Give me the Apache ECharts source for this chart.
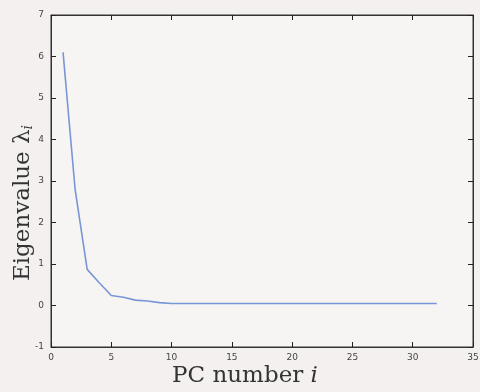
<!DOCTYPE html>
<html>
<head>
<meta charset="utf-8">
<script src="https://cdn.jsdelivr.net/npm/echarts@6/dist/echarts.min.js"></script>
<style>
html,body{margin:0;padding:0;background:#f4f0f0;}
#c{width:480px;height:392px;}
</style>
</head>
<body>
<div id="c"></div>
<script>
var pcIndex = [1,2,3,4,5,6,7,8,9,10,11,12,13,14,15,16,17,18,19,20,21,22,23,24,25,26,27,28,29,30,31,32];
var eigenvalues = [6.1,2.8,0.87,0.55,0.24,0.2,0.13,0.11,0.07,0.05,0.05,0.05,0.05,0.05,0.05,0.05,0.05,0.05,0.05,0.05,0.05,0.05,0.05,0.05,0.05,0.05,0.05,0.05,0.05,0.05,0.05,0.05];
var xTicks = [0,5,10,15,20,25,30,35];
var yTicks = [-1,0,1,2,3,4,5,6,7];

var data = pcIndex.map(function(x,i){return [x, eigenvalues[i]];});
var chart = echarts.init(document.getElementById('c'));
var axisCol = '#333';
var tickLab = {fontSize:9, color:'#444', fontFamily:'DejaVu Sans'};
chart.setOption({
  backgroundColor:'#f4f0f0',
  animation:false,
  grid:{left:51,right:7,top:15,bottom:45,outerBoundsMode:'none',containLabel:false,show:true,backgroundColor:'#f7f4f4',borderColor:axisCol,borderWidth:1},
  xAxis:[{
    type:'value',min:xTicks[0],max:xTicks[xTicks.length-1],interval:5,
    position:'bottom',
    axisLine:{show:true,onZero:false,lineStyle:{color:axisCol,width:1}},
    axisTick:{show:true,inside:true,length:5,lineStyle:{color:'#222',width:1}},
    splitLine:{show:false},
    axisLabel:Object.assign({margin:6},tickLab),
    name:'PC number {i|i}',nameLocation:'middle',nameGap:18,nameMoveOverlap:false,
    nameTextStyle:{fontFamily:'DejaVu Serif',fontSize:23,color:'#333',padding:[0,34,0,0],
      rich:{i:{fontFamily:'DejaVu Serif',fontStyle:'italic',fontSize:23,color:'#333'}}}
  },{
    type:'value',min:0,max:35,interval:5,position:'top',
    axisLine:{show:true,onZero:false,lineStyle:{color:axisCol}},
    axisTick:{show:true,inside:true,length:5,lineStyle:{color:'#222',width:1}},
    axisLabel:{show:false},splitLine:{show:false}
  }],
  yAxis:[{
    type:'value',min:yTicks[0],max:yTicks[yTicks.length-1],interval:1,
    position:'left',
    axisLine:{show:true,onZero:false,lineStyle:{color:axisCol,width:1}},
    axisTick:{show:true,inside:true,length:5,lineStyle:{color:'#222',width:1}},
    splitLine:{show:false},
    axisLabel:Object.assign({margin:7},tickLab),
    name:'Eigenvalue λ{s|i}',nameLocation:'middle',nameGap:16,nameMoveOverlap:false,nameRotate:90,
    nameTextStyle:{fontFamily:'DejaVu Serif',fontSize:23,color:'#333',padding:[0,44,0,0],
      rich:{s:{fontFamily:'DejaVu Serif',fontStyle:'italic',fontSize:14,color:'#333',verticalAlign:'bottom',padding:[8,0,0,0]}}}
  },{
    type:'value',min:-1,max:7,interval:1,position:'right',
    axisLine:{show:true,onZero:false,lineStyle:{color:axisCol}},
    axisTick:{show:true,inside:true,length:5,lineStyle:{color:'#222',width:1}},
    axisLabel:{show:false},splitLine:{show:false}
  }],
  series:[{
    type:'line',xAxisIndex:0,yAxisIndex:0,data:data,
    showSymbol:false,symbol:'none',
    lineStyle:{color:'#7896d6',width:1.6}
  }]
});
</script>
</body>
</html>
